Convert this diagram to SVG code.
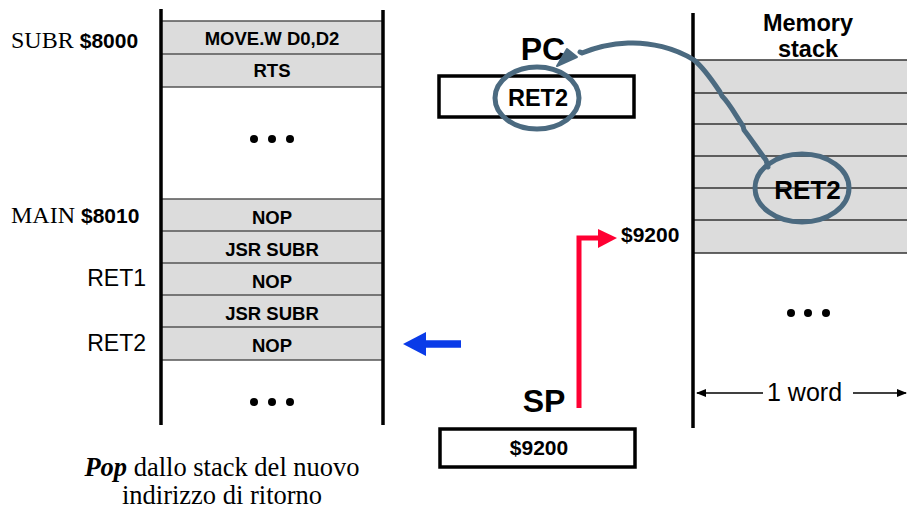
<svg xmlns="http://www.w3.org/2000/svg" width="907" height="517" viewBox="0 0 907 517">
<style>
.b{font-family:"Liberation Sans",Arial,sans-serif;font-weight:bold;fill:#000}
.s{font-family:"Liberation Sans",Arial,sans-serif;fill:#000}
.t{font-family:"Liberation Serif","Times New Roman",serif;fill:#000}
.cell{fill:#dcdcdc}
.rl{stroke:#555;stroke-width:1.5}
.vl{stroke:#000;stroke-width:3.5}
.ell{fill:none;stroke:#4b6a80;stroke-width:5}
.box{fill:#fff;stroke:#000;stroke-width:3.5}
</style>
<defs>
<marker id="sa" markerWidth="10" markerHeight="8" refX="9" refY="4" orient="auto" markerUnits="userSpaceOnUse"><path d="M0,0 L10,4 L0,8 Z" fill="#000"/></marker>
</defs>

<g id="program-memory">
<rect class="cell" x="161" y="21" width="222" height="66"/>
<rect class="cell" x="161" y="199" width="222" height="161"/>
<g class="rl">
<line x1="161" y1="21" x2="383" y2="21"/><line x1="161" y1="54" x2="383" y2="54"/><line x1="161" y1="87" x2="383" y2="87"/>
<line x1="161" y1="199" x2="383" y2="199"/><line x1="161" y1="231" x2="383" y2="231"/><line x1="161" y1="263" x2="383" y2="263"/>
<line x1="161" y1="295" x2="383" y2="295"/><line x1="161" y1="327" x2="383" y2="327"/><line x1="161" y1="360" x2="383" y2="360"/>
</g>
<line class="vl" x1="161" y1="9" x2="161" y2="425"/>
<line class="vl" x1="383" y1="10" x2="383" y2="425"/>
<g class="b" font-size="18.5" text-anchor="middle">
<text x="272" y="45">MOVE.W D0,D2</text>
<text x="272" y="77">RTS</text>
<text x="272" y="224">NOP</text>
<text x="272" y="256">JSR SUBR</text>
<text x="272" y="288">NOP</text>
<text x="272" y="320">JSR SUBR</text>
<text x="272" y="352">NOP</text>
</g>
<g fill="#000">
<circle cx="254" cy="139" r="4"/><circle cx="272" cy="139" r="4"/><circle cx="290" cy="139" r="4"/>
<circle cx="254" cy="402" r="4"/><circle cx="272" cy="402" r="4"/><circle cx="290" cy="402" r="4"/>
</g>
</g>

<g id="labels">
<text x="11" y="48"><tspan class="t" font-size="24">SUBR </tspan><tspan class="b" font-size="21">$8000</tspan></text>
<text x="11" y="223"><tspan class="t" font-size="24">MAIN </tspan><tspan class="b" font-size="21">$8010</tspan></text>
<text class="s" x="146" y="286" font-size="23" text-anchor="end">RET1</text>
<text class="s" x="146" y="351" font-size="23" text-anchor="end">RET2</text>
</g>

<g id="pc">
<text class="b" x="543" y="60" font-size="32" text-anchor="middle">PC</text>
<rect class="box" x="439" y="76" width="195" height="41"/>
<text class="b" x="538" y="106" font-size="23.5" text-anchor="middle">RET2</text>
<ellipse class="ell" cx="537" cy="98" rx="42" ry="31"/>
</g>

<g id="sp">
<text class="b" x="544" y="412" font-size="32" text-anchor="middle">SP</text>
<rect class="box" x="440" y="429" width="195" height="38"/>
<text class="b" x="539" y="455" font-size="21" text-anchor="middle">$9200</text>
</g>

<g id="memory-stack">
<text class="b" x="808" y="31" font-size="23.5" text-anchor="middle">Memory</text>
<text class="b" x="808" y="57" font-size="23.5" text-anchor="middle">stack</text>
<rect class="cell" x="693" y="60" width="214" height="193"/>
<g stroke="#333" stroke-width="1.3">
<line x1="693" y1="60" x2="907" y2="60"/><line x1="693" y1="93" x2="907" y2="93"/><line x1="693" y1="124" x2="907" y2="124"/>
<line x1="693" y1="156" x2="907" y2="156"/><line x1="693" y1="188" x2="907" y2="188"/><line x1="693" y1="220" x2="907" y2="220"/>
<line x1="693" y1="253" x2="907" y2="253"/>
</g>
<line class="vl" x1="693" y1="13" x2="693" y2="428"/>
<text class="b" x="807.5" y="199" font-size="26" text-anchor="middle">RET2</text>
<ellipse class="ell" cx="802" cy="188" rx="47" ry="34"/>
<g fill="#000">
<circle cx="791" cy="313" r="4"/><circle cx="808" cy="313" r="4"/><circle cx="826" cy="313" r="4"/>
</g>
<line x1="763" y1="393" x2="697" y2="393" stroke="#000" stroke-width="1.3" marker-end="url(#sa)"/>
<text class="s" x="767" y="401" font-size="25">1 word</text>
<line x1="853" y1="393" x2="906" y2="393" stroke="#000" stroke-width="1.3" marker-end="url(#sa)"/>
</g>

<g id="connectors">
<path d="M768,167 L766,160 C758,150 752,140 744,130 L743,126 C736,116 730,104 722,96 L720,92 C712,80 704,68 694,60 C675,48 650,42 628,43 C608,44 594,48 582,53 L580,52" fill="none" stroke="#4b6a80" stroke-width="5" stroke-linecap="round" stroke-linejoin="round"/>
<path d="M557,66 L567,49 L577,57 Z" fill="#4b6a80" stroke="#4b6a80" stroke-width="2" stroke-linejoin="round"/>
<path d="M579,408 L579,238 L602,238" fill="none" stroke="#ff0033" stroke-width="5"/>
<path d="M617,238 L598,229 L598,248 Z" fill="#ff0033"/>
<path d="M461,344 L420,344" fill="none" stroke="#0a3be8" stroke-width="7.5"/>
<path d="M403,344 L426,332 L426,356 Z" fill="#0a3be8"/>
<text class="b" x="621" y="242" font-size="21">$9200</text>
</g>

<g id="caption" class="t" font-size="26.5" text-anchor="middle">
<text x="222" y="476"><tspan font-weight="bold" font-style="italic">Pop</tspan> dallo stack del nuovo</text>
<text x="222" y="504">indirizzo di ritorno</text>
</g>
</svg>
